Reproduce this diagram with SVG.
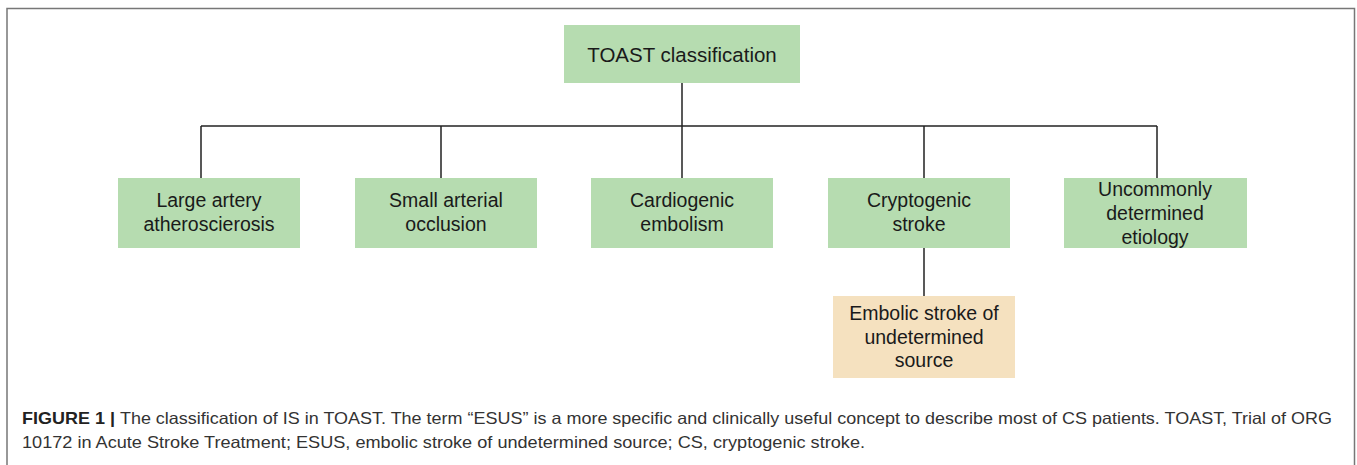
<svg xmlns="http://www.w3.org/2000/svg" width="1357" height="465" viewBox="0 0 1357 465">
<style>
.box{fill:#b6dcb0}
.esus{fill:#f5e1bf}
.lbl{font-family:"Liberation Sans",Arial,sans-serif;font-size:19.5px;fill:#1a1a1a;text-anchor:middle}
.conn{stroke:#222;stroke-width:1.5;fill:none}
.cap{font-family:"Liberation Sans",Arial,sans-serif;font-size:16.5px;fill:#333}
</style>
<rect x="0" y="0" width="1357" height="465" fill="#fff"/>
<rect x="7" y="8.5" width="1347.5" height="470" fill="none" stroke="#777" stroke-width="1.5"/>
<g id="connectors">
<path class="conn" d="M682 83V178"/>
<path class="conn" d="M201 126H1157"/>
<path class="conn" d="M201 126V178M441 126V178M924 126V178M1157 126V178"/>
<path class="conn" d="M924 248V296"/>
</g>
<g id="n-toast"><rect class="box" x="564" y="25" width="236" height="58"/><text class="lbl" x="682" y="62" style="font-size:20.5px">TOAST classification</text></g>
<g id="n-laa"><rect class="box" x="118" y="178" width="182" height="70"/><text class="lbl" x="209" y="207">Large artery</text><text class="lbl" x="209" y="231">atheroscierosis</text></g>
<g id="n-sao"><rect class="box" x="355" y="178" width="182" height="70"/><text class="lbl" x="446" y="207">Small arterial</text><text class="lbl" x="446" y="231">occlusion</text></g>
<g id="n-ce"><rect class="box" x="591" y="178" width="182" height="70"/><text class="lbl" x="682" y="207">Cardiogenic</text><text class="lbl" x="682" y="231">embolism</text></g>
<g id="n-cs"><rect class="box" x="828" y="178" width="182" height="70"/><text class="lbl" x="919" y="207">Cryptogenic</text><text class="lbl" x="919" y="231">stroke</text></g>
<g id="n-ude"><rect class="box" x="1064" y="178" width="183" height="70"/><text class="lbl" x="1155" y="196">Uncommonly</text><text class="lbl" x="1155" y="220">determined</text><text class="lbl" x="1155" y="244">etiology</text></g>
<g id="n-esus"><rect class="esus" x="833" y="296" width="182" height="82"/><text class="lbl" x="924" y="320">Embolic stroke of</text><text class="lbl" x="924" y="344">undetermined</text><text class="lbl" x="924" y="367">source</text></g>
<g id="caption">
<text class="cap" x="22" y="424" textLength="1310" lengthAdjust="spacingAndGlyphs"><tspan font-weight="bold" fill="#222">FIGURE 1 | </tspan>The classification of IS in TOAST. The term “ESUS” is a more specific and clinically useful concept to describe most of CS patients. TOAST, Trial of ORG</text>
<text class="cap" x="22" y="448" textLength="843" lengthAdjust="spacingAndGlyphs">10172 in Acute Stroke Treatment; ESUS, embolic stroke of undetermined source; CS, cryptogenic stroke.</text>
</g>
</svg>
